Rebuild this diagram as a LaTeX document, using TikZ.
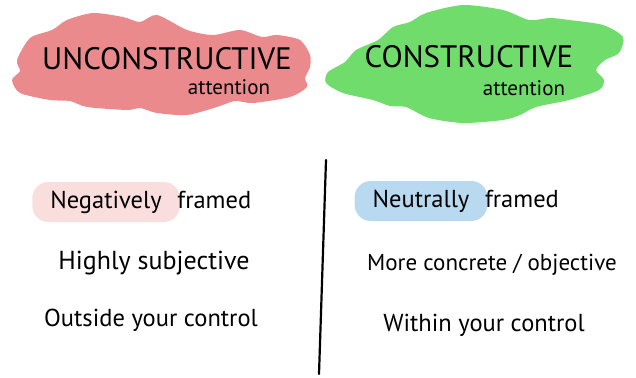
\documentclass[tikz,border=0pt]{standalone}
\usepackage{fontspec}
\setmainfont{PT Sans}
\usetikzlibrary{positioning}
\definecolor{brushred}{RGB}{234,138,140}
\definecolor{brushgreen}{RGB}{112,220,108}
\definecolor{hlred}{RGB}{250,222,222}
\definecolor{hlblue}{RGB}{184,217,240}
\tikzset{
  title/.style={font=\fontsize{31}{33}\selectfont, inner sep=0pt},
  sub/.style={font=\fontsize{21}{23}\selectfont, inner sep=0pt},
  item/.style={font=\fontsize{24.5}{27}\selectfont},
  hilite/.style={item, rounded corners=16pt, inner xsep=18pt, minimum height=40pt}
}
\begin{document}
\begin{tikzpicture}[x=1pt,y=-1pt]
\useasboundingbox (0,0) rectangle (636,377);
% brush strokes behind the headings
\fill[brushred] plot[smooth cycle, tension=0.45] coordinates {
  (17,60) (30,38) (52,30) (67,20) (93,13) (123,17) (140,22) (157,15) (187,30)
  (213,35) (240,30) (262,37) (277,35) (300,40) (310,55) (310,67) (305,78)
  (307,87) (290,97) (253,103) (235,101) (217,107) (187,115) (157,113)
  (140,108) (127,110) (87,107) (70,101) (50,100) (20,93) (12,80) (20,71)};
\fill[brushgreen] plot[smooth cycle, tension=0.45] coordinates {
  (328,72) (345,62) (356,50) (378,40) (393,27) (410,22) (426,13) (463,5)
  (503,10) (529,20) (550,18) (569,20) (603,25) (623,37) (619,53) (605,60)
  (596,70) (604,80) (599,90) (569,100) (536,107) (520,115) (503,120)
  (463,123) (429,118) (406,107) (390,106) (373,100) (343,93) (326,83)};
% headings
\node[title] (uncon) at (167,59) {UNCONSTRUCTIVE};
\node[sub] (uncatt) at (229,87) {attention};
\node[title] (con) at (469,57) {CONSTRUCTIVE};
\node[sub] (conatt) at (524,88) {attention};
% divider
\coordinate (divtop) at (326,160);
\coordinate (divbot) at (319,374);
\draw[line width=2.2pt, line cap=round] (divtop) -- (divbot);
% left column
\node[hilite, fill=hlred] (neg) at (106,202) {Negatively};
\node[item, anchor=base west] (negfr) at ([xshift=-6pt]neg.base east) {framed};
\node[item, font=\fontsize{26}{28}\selectfont] (subj) at (154,263) {Highly subjective};
\node[item] (outs) at (151,320) {Outside your control};
% right column
\node[hilite, fill=hlblue] (neu) at (421,201) {Neutrally};
\node[item, anchor=base west] (neufr) at ([xshift=-6pt]neu.base east) {framed};
\node[item, font=\fontsize{23}{26}\selectfont] (concr) at (492,265) {More concrete / objective};
\node[item] (within) at (484,325) {Within your control};
\end{tikzpicture}
\end{document}
